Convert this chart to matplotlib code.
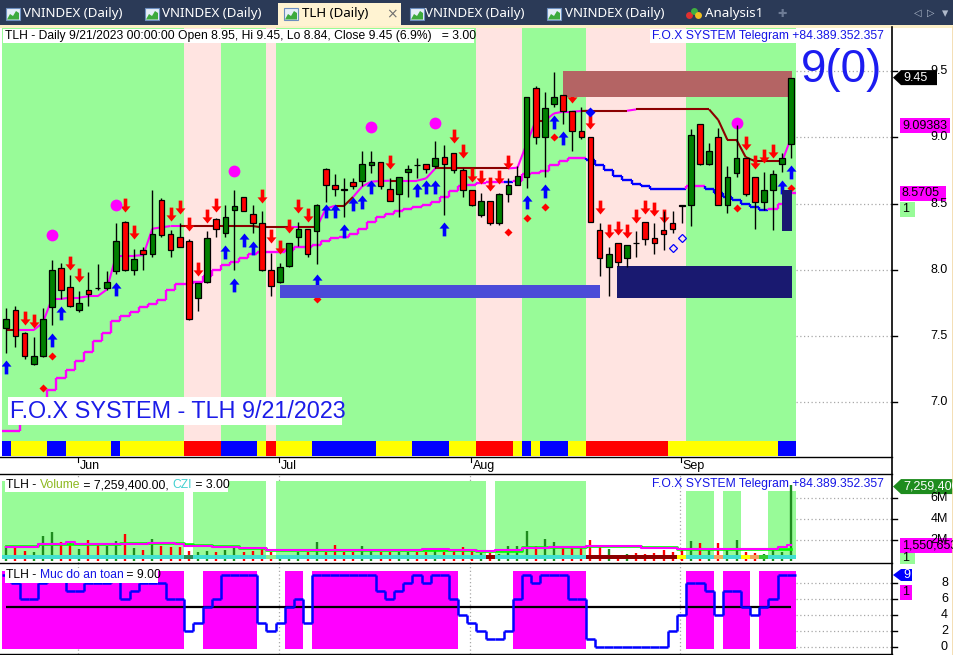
import matplotlib
matplotlib.use("Agg")
import matplotlib.pyplot as plt
from matplotlib.patches import Rectangle, Polygon
from matplotlib.collections import LineCollection

W, H = 954, 655
plt.rcParams["font.family"] = ["Liberation Sans", "DejaVu Sans"]

# ------------------------------------------------------------------ data
ticker = "TLH"
last_date = "9/21/2023"

opens = [7.56, 7.70, 7.52, 7.29, 7.35, 7.72, 8.01, 7.87, 7.70, 7.85,
         7.86, 7.86, 7.99, 8.36, 8.00, 8.15, 8.12, 8.53, 8.27, 8.25,
         8.22, 7.79, 7.91, 8.38, 8.28, 8.45, 8.55, 8.42, 8.35, 8.00,
         7.91, 8.03, 8.25, 8.31, 8.29, 8.76, 8.64, 8.61, 8.66, 8.67,
         8.79, 8.81, 8.61, 8.57, 8.74, 8.79, 8.80, 8.78, 8.85, 8.88,
         8.75, 8.60, 8.41, 8.52, 8.35, 8.57, 8.64, 8.70, 9.37, 9.00,
         9.25, 9.32, 9.20, 9.05, 9.00, 8.30, 8.02, 8.20, 8.09, 8.20,
         8.36, 8.24, 8.30, 8.35, 8.49, 8.49, 9.10, 8.80, 9.00, 8.49,
         8.73, 8.84, 8.70, 8.51, 8.60, 8.80, 8.95]
highs = [7.71, 7.73, 7.53, 7.49, 7.71, 8.07, 8.05, 7.96, 7.84, 7.98,
         8.04, 7.99, 8.35, 8.37, 8.16, 8.17, 8.60, 8.54, 8.30, 8.35,
         8.23, 7.90, 8.29, 8.39, 8.49, 8.60, 8.55, 8.49, 8.44, 8.13,
         8.05, 8.20, 8.36, 8.31, 8.50, 8.77, 8.72, 8.69, 8.69, 8.90,
         8.90, 8.81, 8.69, 8.70, 8.79, 8.84, 8.80, 8.97, 8.94, 8.88,
         8.77, 8.60, 8.58, 8.52, 8.58, 8.69, 8.78, 9.30, 9.39, 9.34,
         9.49, 9.32, 9.20, 9.23, 9.00, 8.35, 8.17, 8.20, 8.19, 8.29,
         8.36, 8.35, 8.44, 8.44, 8.49, 9.06, 9.10, 8.96, 9.07, 8.78,
         9.09, 8.84, 8.70, 8.74, 8.75, 8.88, 9.45]
lows = [7.37, 7.42, 7.33, 7.28, 7.34, 7.58, 7.78, 7.72, 7.68, 7.73,
        7.85, 7.85, 7.97, 7.99, 7.96, 8.00, 8.10, 8.25, 8.10, 8.17,
        7.62, 7.69, 7.90, 8.25, 8.25, 8.00, 8.44, 8.28, 7.99, 7.80,
        7.90, 8.02, 8.18, 8.10, 8.04, 8.51, 8.56, 8.40, 8.61, 8.63,
        8.73, 8.61, 8.52, 8.40, 8.55, 8.69, 8.73, 8.77, 8.41, 8.73,
        8.55, 8.48, 8.40, 8.34, 8.34, 8.51, 8.64, 8.62, 8.95, 8.70,
        9.23, 9.10, 8.90, 8.99, 8.36, 7.95, 7.80, 8.03, 8.02, 8.10,
        8.19, 8.12, 8.15, 8.28, 8.35, 8.33, 8.79, 8.79, 8.49, 8.43,
        8.70, 8.56, 8.31, 8.45, 8.30, 8.74, 8.84]
closes = [7.63, 7.50, 7.35, 7.35, 7.63, 8.00, 7.85, 7.73, 7.75, 7.82,
          7.86, 7.91, 8.22, 8.00, 8.08, 8.12, 8.27, 8.26, 8.15, 8.17,
          7.63, 7.90, 8.24, 8.31, 8.40, 8.48, 8.44, 8.35, 8.00, 7.88,
          8.02, 8.20, 8.31, 8.12, 8.49, 8.64, 8.61, 8.60, 8.63, 8.80,
          8.81, 8.63, 8.52, 8.70, 8.76, 8.79, 8.76, 8.84, 8.80, 8.75,
          8.60, 8.49, 8.52, 8.35, 8.57, 8.64, 8.71, 9.30, 9.00, 9.22,
          9.30, 9.20, 9.05, 9.00, 8.36, 8.09, 8.12, 8.06, 8.19, 8.20,
          8.23, 8.20, 8.27, 8.31, 8.48, 9.02, 8.80, 8.90, 8.49, 8.70,
          8.84, 8.57, 8.51, 8.60, 8.72, 8.84, 9.45]

# lower trailing line and its state (m = up/magenta, b = down/blue)
trail_stop = [6.78, 6.78, 6.84, 6.90, 6.98, 7.09, 7.18, 7.24, 7.31, 7.38,
              7.46, 7.52, 7.61, 7.65, 7.68, 7.72, 7.74, 7.77, 7.85, 7.89,
              7.89, 7.91, 7.95, 8.00, 8.035, 8.06, 8.09, 8.12, 8.136, 8.136,
              8.136, 8.15, 8.17, 8.174, 8.19, 8.22, 8.24, 8.25, 8.27, 8.31,
              8.36, 8.40, 8.42, 8.44, 8.455, 8.476, 8.488, 8.513, 8.551, 8.594,
              8.634, 8.639, 8.652, 8.659, 8.659, 8.664, 8.67, 8.72, 8.732, 8.745,
              8.79, 8.823, 8.84, 8.84, 8.83, 8.79, 8.75, 8.71, 8.68, 8.65,
              8.63, 8.61, 8.61, 8.61, 8.61, 8.63, 8.63, 8.61, 8.58, 8.55,
              8.53, 8.50, 8.47, 8.45, 8.46, 8.50, 8.58]
trail_state = ("m" * 55 + "b" + "m" * 8 + "b" * 11 + "mm" + "b" * 7 + "mmm")

# upper resistance line, state per segment (r = dark red, m = magenta)
resist_line = [7.545, 7.545, 7.545, 7.545, 7.60, 7.78, 7.78, 7.79, 7.79, 7.80,
               7.80, 7.85, 8.10, 8.106, 8.106, 8.11, 8.31, 8.32, 8.33, 8.33,
               8.33, 8.33, 8.33, 8.33, 8.33, 8.33, 8.33, 8.33, 8.32, 8.32,
               8.32, 8.32, 8.32, 8.32, 8.32, 8.46, 8.483, 8.483, 8.55, 8.63,
               8.665, 8.67, 8.672, 8.672, 8.672, 8.672, 8.69, 8.765, 8.765, 8.765,
               8.765, 8.765, 8.765, 8.765, 8.765, 8.765, 8.77, 8.95, 9.125, 9.125,
               9.18, 9.193, 9.193, 9.198, 9.20, 9.20, 9.20, 9.20, 9.20, 9.21,
               9.21, 9.21, 9.21, 9.21, 9.21, 9.21, 9.21, 9.21, 9.13, 8.98,
               8.98, 8.85, 8.82, 8.82, 8.82, 8.82, 9.00]
resist_state = ("r" + "m" * 18 + "r" * 12 + "m" + "rr" + "mm" + "rr" + "mmmm" + "r"
                + "mmmm" + "r" * 8 + "mmm" + "r" + "mmmm" + "rrrrr" + "m" + "r" * 16 + "m")

# signals
buy_bars = [0, 5, 6, 12, 24, 25, 26, 27, 34, 35, 36, 37, 38, 39, 40, 45, 46, 47, 48,
            57, 59, 60, 61, 85, 86]
buy_tips = [7.32, 7.52, 7.73, 7.91, 8.19, 7.94, 8.28, 8.22, 7.97, 8.50, 8.50, 8.345,
            8.546, 8.564, 8.677, 8.652, 8.677, 8.677, 8.357, 8.564, 8.644, 9.167, 9.047,
            8.677, 8.79]
sell_bars = [2, 3, 7, 8, 13, 14, 18, 19, 20, 21, 22, 23, 28, 29, 30, 31, 32, 33, 42,
             49, 50, 51, 52, 53, 54, 55, 62, 64, 65, 66, 67, 68, 69, 70, 71, 72,
             81, 82, 83, 84]
sell_tips = [7.583, 7.558, 8.00, 7.91, 8.438, 8.23, 8.37, 8.42, 8.29, 7.955, 8.35,
             8.438, 8.506, 8.20, 8.116, 8.275, 8.425, 8.362, 8.757, 8.958, 8.84, 8.664,
             8.647, 8.596, 8.647, 8.757, 9.26, 9.06, 8.418, 8.242, 8.262, 8.242, 8.355,
             8.418, 8.405, 8.355, 8.903, 8.757, 8.808, 8.84]
dot_bars = [4, 5, 34, 55, 57, 59, 60, 80, 86]
dot_prices = [7.11, 7.35, 7.78, 8.287, 8.393, 8.476, 9.004, 8.468, 8.62]
circle_bars = [5, 12, 25, 40, 47, 80]
circle_prices = [8.262, 8.489, 8.745, 9.074, 9.105, 9.11]
hollow_bars = [73, 74]
hollow_prices = [8.166, 8.242]
star_bars = [64]
star_prices = [9.193]

# zones (bar from, bar to, low, high)
zone_x0 = [61.0, 30.0, 66.9, 85.0]
zone_x1 = [86.1, 65.0, 86.1, 86.1]
zone_lo = [9.30, 7.785, 7.79, 8.29]
zone_hi = [9.50, 7.885, 8.03, 8.60]

# background states per bar
main_bands = ("G" * 20 + "P" * 4 + "G" * 5 + "P" + "G" * 22 + "P" * 5 + "G" * 7
              + "P" * 11 + "G" * 12)
state_strip = ("B" + "YYYY" + "BB" + "YYYYY" + "B" + "YYYYYYY" + "RRRR" + "BBBB" + "Y"
               + "R" + "YYYY" + "BBBBBBB" + "YYYY" + "BBBB" + "YYY" + "RRRR" + "Y" + "B"
               + "Y" + "BBB" + "YY" + "RRRRRRRRR" + "YYYYYYYYYYYY" + "BB")

# volume (millions)
volumes_m = [1.46, 1.39, 0.98, 0.92, 2.41, 2.82, 1.87, 1.77, 1.14, 2.03,
             1.71, 1.49, 1.93, 2.60, 1.30, 1.08, 2.12, 1.49, 1.39, 1.39,
             0.98, 0.92, 0.98, 0.92, 1.08, 1.39, 0.92, 1.01, 1.14, 0.92,
             0.55, 0.60, 0.92, 0.92, 1.84, 0.92, 1.55, 0.92, 0.92, 1.46,
             1.14, 0.92, 0.92, 0.92, 0.92, 0.92, 0.92, 1.14, 0.92, 1.08,
             1.33, 1.08, 0.76, 0.82, 0.70, 1.46, 1.46, 2.89, 1.46, 2.09,
             1.84, 1.46, 1.46, 1.46, 2.03, 1.39, 1.17, 0.40, 0.70, 0.76,
             0.70, 0.76, 1.08, 0.92, 1.14, 1.96, 1.71, 1.14, 1.71, 1.08,
             2.03, 0.92, 0.76, 0.70, 1.08, 0.92, 7.2594]
vol_ma_fast = ([1.46] * 4 + [1.64] * 5 + [1.62] * 4 + [1.70] * 4 + [1.75] * 3 + [1.66]
               + [1.55] * 2 + [1.45] * 3 + [1.30] * 3 + [1.08] * 5 + [1.05] * 17 + [1.05]
               + [0.98] * 5 + [1.39] * 7 + [1.49] * 6 + [1.33] * 4 + [1.14] * 13)
vol_ma_slow = ([1.39] * 4 + [1.62] * 3 + [1.87] + [1.62] * 8 + [1.77] * 3 + [1.60] + [1.50]
               + [1.45] * 2 + [1.40] * 3 + [1.25] * 3 + [1.05] * 5 + [1.08] * 7 + [1.03] * 5
               + [1.17] * 3 + [1.05] * 3 + [0.98] * 2 + [1.08] * 3 + [1.25] * 3 + [1.39] * 4
               + [1.49] * 2 + [1.45] * 4 + [1.30] * 4 + [1.14] * 11 + [1.39] + [1.55])
vol_bands = ("G" * 20 + "W" + "G" * 8 + "W" + "G" * 23 + "W" + "G" * 10 + "W" * 11
             + "ggg" + "W" + "gg" + "WWW" + "ggg")
vol_strip = ("c" * 20 + "d" + "c" * 8 + "l" + "c" * 23 + "k" + "c" * 10 + "k" * 10 + "y"
             + "ccc" + "o" + "cc" + "y" + "o" + "g" + "ccc")

# safety level ("Muc do an toan")
safety_level = [9, 8, 6, 6, 8, 9, 9, 7, 7, 8, 8, 8, 9, 6, 7, 8, 8, 8, 6, 6,
                2, 3, 5, 6, 9, 9, 9, 9, 3, 2, 3, 5, 6, 3, 9, 9, 9, 9, 9, 9,
                9, 7, 6, 7, 8, 9, 8, 9, 9, 6, 4, 3, 2, 1, 1, 2, 6, 9, 8, 9,
                9, 9, 6, 6, 1, 0, 0, 0, 0, 0, 0, 0, 0, 2, 4, 8, 8, 7, 4, 7,
                7, 5, 4, 5, 6, 9, 9]
safety_bands = ("M" * 20 + "WW" + "M" * 6 + "WWW" + "MM" + "W" + "M" * 16 + "W" * 6
                + "M" * 8 + "W" * 11 + "MMM" + "W" + "MMM" + "W" + "MMMM")

month_labels = ["Jun", "Jul", "Aug", "Sep"]
month_bars = [8, 30, 51, 74]
price_ticks = [7.0, 7.5, 8.0, 8.5, 9.0, 9.5]
vol_ticks = [2, 4, 6]
vol_tick_labels = ["2M", "4M", "6M"]
safety_ticks = [0, 2, 4, 6, 8]

# ------------------------------------------------------------------ styles
GREEN_BG = "#98FB98"
PINK_BG = "#FFE4E1"
MAGENTA = "#FF00FF"
DARKRED = "#8B0000"
BLUE = "#0000FF"
band_colors = {"G": GREEN_BG, "P": PINK_BG}
strip_colors = {"Y": "#FFFF00", "B": "#0000FF", "R": "#FF0000"}
vstrip_colors = {"c": "#40E0D0", "d": "#2E8B57", "l": "#90EE90", "k": "#8B0000",
                 "y": "#FFFF00", "o": "#F4A460", "g": "#32CD32"}
zone_colors = ["#B46464", "#4B4BD8", "#191970", "#191970"]
n = len(closes)

fig = plt.figure(figsize=(W / 100, H / 100), dpi=100, facecolor="white")
XL = (-0.47, 97.03)


def px_axes(x0, y0, x1, y1, ylim, z=1):
    a = fig.add_axes([x0 / W, 1 - y1 / H, (x1 - x0) / W, (y1 - y0) / H], zorder=z)
    a.set_axis_off()
    a.set_xlim(*XL)
    a.set_ylim(*ylim)
    return a


def runs(codes):
    out, s = [], 0
    for i in range(1, len(codes) + 1):
        if i == len(codes) or codes[i] != codes[s]:
            out.append((s, i - 1, codes[s]))
            s = i
    return out


ax = px_axes(2, 27, 892, 457, (6.587, 9.832))
axv = px_axes(2, 474, 892, 563, (-0.162, 8.314))
axb = px_axes(2, 563, 892, 654, (-0.875, 10.5))
ov = fig.add_axes([0, 0, 1, 1], zorder=10)
ov.set_axis_off()
ov.set_xlim(0, W)
ov.set_ylim(H, 0)

# ------------------------------------------------------------------ main panel
tr = ax.get_xaxis_transform()
for s, e, c in runs(main_bands):
    ax.add_patch(Rectangle((s - 0.5, 0.0372), e - s + 1, 1 - 0.0372, transform=tr,
                           fc=band_colors[c], ec="none", zorder=0))
for s, e, c in runs(state_strip):
    ax.add_patch(Rectangle((s - 0.5, 0.0023), e - s + 1, 0.035, transform=tr,
                           fc=strip_colors[c], ec="none", zorder=0))
ax.hlines(price_ticks, n - 0.5, XL[1], colors="#A8A8A8", linestyles=(0, (1, 2)), lw=0.9, zorder=0)

for x0, x1, lo, hi, col in zip(zone_x0, zone_x1, zone_lo, zone_hi, zone_colors):
    ax.add_patch(Rectangle((x0, lo), x1 - x0, hi - lo, fc=col, ec="none", zorder=3))

# trailing step line
segs, cols = [], []
for i in range(n):
    col = BLUE if trail_state[i] == "b" else MAGENTA
    segs.append([(i - 0.5, trail_stop[i]), (i + 0.5, trail_stop[i])])
    cols.append(col)
    if i < n - 1:
        segs.append([(i + 0.5, trail_stop[i]), (i + 0.5, trail_stop[i + 1])])
        cols.append(BLUE if trail_state[i + 1] == "b" else MAGENTA)
ax.add_collection(LineCollection(segs, colors=cols, linewidths=1.7, zorder=2))

# resistance line
segs, cols = [], []
for i in range(n - 1):
    segs.append([(i, resist_line[i]), (i + 1, resist_line[i + 1])])
    cols.append(DARKRED if resist_state[i] == "r" else MAGENTA)
ax.add_collection(LineCollection(segs, colors=cols, linewidths=1.5, zorder=2,
                                 capstyle="butt"))

# markers
up_marker = [(0, 0), (0.36, -0.44), (0.13, -0.44), (0.13, -1), (-0.13, -1),
             (-0.13, -0.44), (-0.36, -0.44), (0, 0)]
dn_marker = [(x, -y) for x, y in up_marker]
ax.plot(buy_bars, buy_tips, ls="none", marker=up_marker, ms=20, mfc=BLUE, mec="none", zorder=2.5)
ax.plot(sell_bars, sell_tips, ls="none", marker=dn_marker, ms=20, mfc="#FF0000", mec="none", zorder=2.5)
ax.plot(dot_bars, dot_prices, ls="none", marker="D", ms=4, mfc="#FF0000", mec="none", zorder=2.5)
ax.plot(circle_bars, circle_prices, ls="none", marker="o", ms=8.5, mfc=MAGENTA, mec="none", zorder=2.5)
ax.plot(hollow_bars, hollow_prices, ls="none", marker="D", ms=4.2, mfc="none", mec=BLUE, mew=0.9, zorder=2.5)
ax.plot(star_bars, star_prices, ls="none", marker="D", ms=5, mfc=BLUE, mec="none", zorder=2.5)

# candles
idx = list(range(n))
ax.vlines(idx, lows, highs, colors="black", lw=1.0, zorder=4)
body_lo = [min(o, c) for o, c in zip(opens, closes)]
body_h = [abs(c - o) for o, c in zip(opens, closes)]
body_c = ["#008000" if c > o else "#FF0000" for o, c in zip(opens, closes)]
ax.bar(idx, body_h, bottom=body_lo, width=0.62, color=body_c, edgecolor="black",
       linewidth=0.9, zorder=5)

# ------------------------------------------------------------------ volume panel
for s, e, c in runs(vol_bands):
    if c == "W":
        continue
    top = 7.65 if c == "G" else 6.70
    axv.add_patch(Rectangle((s - 0.5, 0.22), e - s + 1, top - 0.22, fc=GREEN_BG, ec="none", zorder=0))
axv.hlines(vol_ticks, n - 0.5, XL[1], colors="#A8A8A8", linestyles=(0, (1, 2)), lw=0.9, zorder=0)
axv.vlines([m - 0.15 for m in month_bars], -0.2, 8.4, colors="#A8A8A8", linestyles=(0, (1, 2)),
           lw=0.9, zorder=-1)
vcol = ["#1E8C1E" if c > o else "#FF0000" for o, c in zip(opens, closes)]
axv.vlines(idx, 0, volumes_m, colors=vcol, lw=1.7, zorder=2)
axv.plot(idx, vol_ma_fast, drawstyle="steps-mid", color="#00FF00", lw=1.9, zorder=3)
axv.plot(idx, vol_ma_slow, drawstyle="steps-mid", color=MAGENTA, lw=1.5, zorder=3.1)
for s, e, c in runs(vol_strip):
    axv.add_patch(Rectangle((s - 0.5, 0.22), e - s + 1, 0.38, fc=vstrip_colors[c], ec="none", zorder=4))

# ------------------------------------------------------------------ safety panel
for s, e, c in runs(safety_bands):
    if c == "M":
        axb.add_patch(Rectangle((s - 0.5, -0.25), e - s + 1, 9.75, fc=MAGENTA, ec="none", zorder=0))
axb.hlines(safety_ticks, n - 0.5, XL[1], colors="#A8A8A8", linestyles=(0, (1, 2)), lw=0.9, zorder=0)
axb.vlines([m - 0.15 for m in month_bars], -0.9, 10.5, colors="#A8A8A8", linestyles=(0, (1, 2)),
           lw=0.9, zorder=-1)
axb.hlines(5, 0, n - 1, colors="black", lw=1.6, zorder=2)
segs = []
for i in range(n):
    segs.append([(i - 0.5, safety_level[i]), (i + 0.5, safety_level[i])])
    if i < n - 1:
        segs.append([(i + 0.5, safety_level[i]), (i + 0.5, safety_level[i + 1])])
axb.add_collection(LineCollection(segs, colors=BLUE, linewidths=1.8, zorder=3))

# ------------------------------------------------------------------ overlay (pixel coords)
def ypx(a, v):
    return H - a.transData.transform((0, v))[1]


def xpx(a, v):
    return a.transData.transform((v, 0))[0]


renderer = fig.canvas.get_renderer()


def text_w(s, **kw):
    t1 = ov.text(0, 0, s + "|", **kw)
    t2 = ov.text(0, 0, "|", **kw)
    w = t1.get_window_extent(renderer).width - t2.get_window_extent(renderer).width
    t1.remove()
    t2.remove()
    return w


def multicolor(x, y, parts, fs):
    for s, col in parts:
        ov.text(x, y, s, color=col, fontsize=fs, ha="left", va="center")
        x += text_w(s, fontsize=fs)


# tab bar
ov.add_patch(Rectangle((0, 0), W, 25, fc="#2B3A57", ec="none"))
ov.add_patch(Rectangle((0, 25), W, 2.5, fc="#FCEFC7", ec="none"))
ov.add_patch(Rectangle((278, 3), 123, 23, fc="#FFF3D2", ec="none"))


def chart_icon(x, y):
    ov.add_patch(Rectangle((x, y), 14, 12, fc="#E6EEF8", ec="#6C8EBF", lw=0.8))
    ov.add_patch(Polygon([(x + 1, y + 11.5), (x + 4, y + 6), (x + 7, y + 8), (x + 10, y + 3),
                          (x + 13, y + 5), (x + 13, y + 11.5)], closed=True, fc="#3DAA3D", ec="none"))


tab_font = dict(family=["Noto Sans", "DejaVu Sans"], fontsize=9.6, va="center")
for ix, tx, lab in [(6, 23, "VNINDEX (Daily)"), (145, 162, "VNINDEX (Daily)"),
                    (410, 425, "VNINDEX (Daily)"), (547, 565, "VNINDEX (Daily)")]:
    chart_icon(ix, 8)
    ov.text(tx, 14, lab, color="white", ha="left", **tab_font)
chart_icon(284, 8)
ov.text(302, 14, "TLH (Daily)", color="black", ha="left", fontweight="bold", **tab_font)
ov.text(392, 14, "×", color="#707070", ha="center", family=["DejaVu Sans"], fontsize=10, va="center")
for cx, cy, cc in [(689, 15, "#E03030"), (694, 11, "#40B040"), (698, 15, "#F0C020")]:
    ov.plot([cx], [cy], marker="o", ms=5, mfc=cc, mec="none")
ov.text(705, 14, "Analysis1", color="white", ha="left", **tab_font)
ov.text(782, 14, "✚", color="#6D7B95", ha="center", family=["DejaVu Sans"], fontsize=8, va="center")
ov.text(918, 13, "◁", color="#B0BACB", ha="center", family=["DejaVu Sans"], fontsize=7, va="center")
ov.text(931, 13, "▷", color="#B0BACB", ha="center", family=["DejaVu Sans"], fontsize=7, va="center")
ov.text(945, 14, "▾", color="#B0BACB", ha="center", family=["DejaVu Sans"], fontsize=9, va="center")

# panel frames
for y in (457, 474, 563, 654):
    ov.plot([0, 892], [y, y], color="black", lw=1.0)
ov.plot([892, 892], [27, H], color="black", lw=1.2)
ov.plot([953, 953], [27, H], color="#F2D9A8", lw=1.2)

# header texts
HF = 8.7
ov.add_patch(Rectangle((3, 28.5), 471, 14.5, fc="white", ec="none"))
ov.text(5, 36, f"{ticker} - Daily {last_date} 00:00:00 Open 8.95, Hi 9.45, Lo 8.84, Close 9.45 (6.9%)   = 3.00",
        fontsize=HF, ha="left", va="center", color="black")
ov.add_patch(Rectangle((650, 28.5), 233, 14.5, fc="white", ec="none"))
ov.text(652, 36, "F.O.X SYSTEM Telegram +84.389.352.357", fontsize=HF, ha="left", va="center",
        color="#1515E6")
ov.text(842, 70, "9(0)", fontsize=33, ha="center", va="center", color="#1C1CF0")
ov.add_patch(Rectangle((8, 397), 334, 28, fc="white", ec="none"))
ov.text(10, 411.5, f"F.O.X SYSTEM - {ticker} {last_date}", fontsize=16.8, ha="left",
        va="center", color="#1C1CE8")

# month axis
for lab, b in zip(month_labels, month_bars):
    x = xpx(ax, b) - 1
    ov.plot([x, x], [458, 462], color="black", lw=0.8)
    ov.text(x + 2, 466, lab, fontsize=9, ha="left", va="center")

# price axis labels + tags
for p in price_ticks:
    y = ypx(ax, p)
    ov.plot([892, 897], [y, y], color="black", lw=1)
    ov.text(948, y, f"{p:.1f}", fontsize=9, ha="right", va="center")


def arrow_tag(y, x1, fc, label, tc, half=7.5):
    ov.add_patch(Polygon([(893, y), (901, y - half), (x1, y - half), (x1, y + half), (901, y + half)],
                         closed=True, fc=fc, ec="none"))
    ov.text(903, y, label, fontsize=9, ha="left", va="center", color=tc)


def box_tag(y, x0, x1, fc, label, tc, half=7.5):
    ov.add_patch(Rectangle((x0, y - half), x1 - x0, 2 * half, fc=fc, ec="none"))
    ov.text(x0 + 2, y, label, fontsize=9, ha="left", va="center", color=tc)


arrow_tag(ypx(ax, closes[-1]), 937, "black", f"{closes[-1]:.2f}", "white")
box_tag(ypx(ax, 9.09383) + 1, 900, 950, MAGENTA, "9.09383", "black")
box_tag(ypx(ax, 8.5705) - 1, 900, 946, MAGENTA, "8.5705", "black")
box_tag(209.5, 900, 915, GREEN_BG, "1", "black")

# volume panel texts
for v, lab in zip(vol_ticks, vol_tick_labels):
    y = ypx(axv, v)
    ov.plot([892, 897], [y, y], color="black", lw=1)
    ov.text(948, y, lab, fontsize=9, ha="right", va="center")
ov.add_patch(Rectangle((5, 477.5), 223, 14.5, fc="white", ec="none"))
multicolor(6, 485, [(f"{ticker} - ", "black"), ("Volume", "#8CB81E"), (" = 7,259,400.00, ", "black"),
                    ("CZI", "#40D0D0"), (" = 3.00", "black")], HF)
ov.text(652, 484, "F.O.X SYSTEM Telegram +84.389.352.357", fontsize=HF, ha="left", va="center",
        color="#1515E6")
arrow_tag(ypx(axv, volumes_m[-1]) + 1.5, 960, "#1E8C1E", "7,259,400", "white")
box_tag(ypx(axv, 1.550653), 900, 960, MAGENTA, "1,550,653", "black")
box_tag(558, 900, 915, GREEN_BG, "1", "black", half=5.5)

# safety panel texts
for v in safety_ticks:
    y = ypx(axb, v)
    ov.plot([892, 897], [y, y], color="black", lw=1)
    ov.text(948, y, f"{v}", fontsize=9, ha="right", va="center")
ov.add_patch(Rectangle((5, 568), 153, 15, fc="white", ec="none"))
multicolor(6, 575.5, [(f"{ticker} - ", "black"), ("Muc do an toan", "#1515E6"), (" = 9.00", "black")], HF)
arrow_tag(ypx(axb, safety_level[-1]), 912, BLUE, "9", "white", half=6)
box_tag(592, 900, 912, MAGENTA, "1", "black", half=7.5)

fig.savefig("out.png", dpi=100, facecolor="white")
